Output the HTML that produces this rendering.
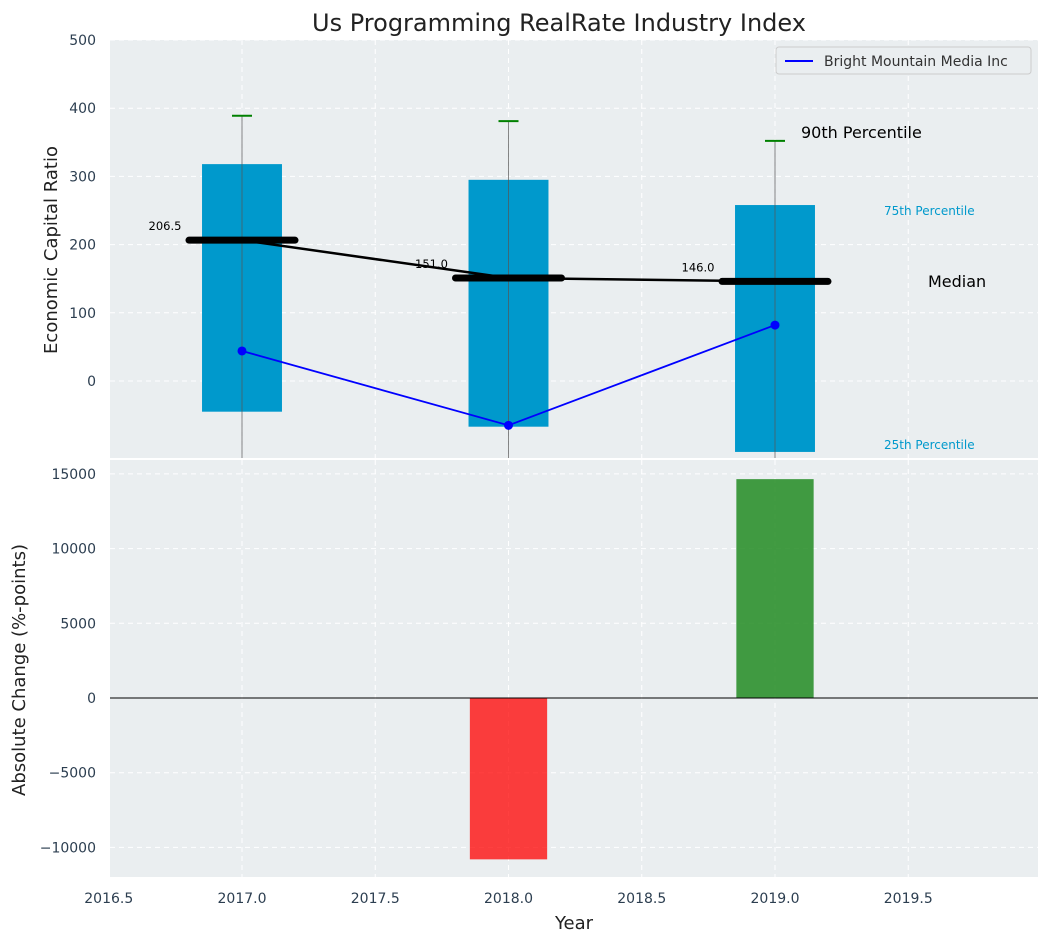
<!DOCTYPE html>
<html><head><meta charset="utf-8"><style>
body{margin:0;background:#fff;}
svg text{font-family:"DejaVu Sans","Liberation Sans",sans-serif;}
</style></head><body>
<svg id="c" width="1048" height="942" viewBox="0 0 1048 942"></svg>
<script>
const years=[2017,2018,2019];
const p25=[-45,-67,-104];
const p75=[318,295,258];
const p90=[389,381,352];
const medians=[206.5,151.0,146.0];
const company=[44,-65,82];
const changes=[0,-10800,14650];
const xTicks=[2016.5,2017.0,2017.5,2018.0,2018.5,2019.0,2019.5];
const yTicksTop=[0,100,200,300,400,500];
const yTicksBot=[-10000,-5000,0,5000,10000,15000];

const L=110,R=1038;
const sx=v=>242+(v-2017)*266.5;
const syT=v=>381-v*0.682;
const syB=v=>698-v*0.01494;
const svg=document.getElementById('c');
const NS='http://www.w3.org/2000/svg';
function el(tag,attrs,txt){const e=document.createElementNS(NS,tag);for(const k in attrs)e.setAttribute(k,attrs[k]);if(txt!==undefined)e.textContent=txt;svg.appendChild(e);return e;}

let e;
e=el('rect',{x:L,y:40,width:R-L,height:418,fill:'#eaeef0'});


e=el('rect',{x:L,y:460,width:R-L,height:417,fill:'#eaeef0'});



xTicks.forEach(t=>{
  [[40,458],[460,877]].forEach(([a,b])=>{
    e=el('line',{x1:sx(t),x2:sx(t),y1:a,y2:b,stroke:'#fff','stroke-dasharray':'5,4','stroke-width':1});
    
    
  });
});
yTicksTop.forEach(t=>{
  e=el('line',{x1:L,x2:R,y1:syT(t),y2:syT(t),stroke:'#fff','stroke-dasharray':'5,4'});
  
  
  e=el('text',{x:96,y:syT(t)+5,'text-anchor':'end','font-size':14,fill:'#2c3e50'},t);
  
  
});
yTicksBot.forEach(t=>{
  e=el('line',{x1:L,x2:R,y1:syB(t),y2:syB(t),stroke:'#fff','stroke-dasharray':'5,4'});
  
  
  e=el('text',{x:96,y:syB(t)+5,'text-anchor':'end','font-size':14,fill:'#2c3e50'},t<0?'\u2212'+Math.abs(t):t);
  
  
});
xTicks.forEach(t=>{
  e=el('text',{x:sx(t),y:903,'text-anchor':'middle','font-size':14,fill:'#2c3e50'},t.toFixed(1));
  
  
});

const bw=0.3*266.5, mw=106;
years.forEach((y,i)=>{
  e=el('rect',{x:sx(y)-bw/2,y:syT(p75[i]),width:bw,height:syT(p25[i])-syT(p75[i]),fill:'#0099cc'});
  
  
  e=el('line',{x1:sx(y),x2:sx(y),y1:syT(p90[i]),y2:458,stroke:'#555','stroke-width':1,opacity:0.7});
  
  
  e=el('line',{x1:sx(y)-10,x2:sx(y)+10,y1:syT(p90[i]),y2:syT(p90[i]),stroke:'green','stroke-width':2});
  
  
});
e=el('polyline',{points:years.map((y,i)=>sx(y)+','+syT(medians[i])).join(' '),fill:'none',stroke:'#000','stroke-width':2.5});


years.forEach((y,i)=>{
  e=el('line',{x1:sx(y)-mw/2,x2:sx(y)+mw/2,y1:syT(medians[i]),y2:syT(medians[i]),stroke:'#000','stroke-width':7,'stroke-linecap':'round'});
  
  
  e=el('text',{x:sx(y)-77,y:syT(medians[i])-10,'text-anchor':'middle','font-size':11.5,fill:'#000'},medians[i].toFixed(1));
  
  
});
e=el('polyline',{points:years.map((y,i)=>sx(y)+','+syT(company[i])).join(' '),fill:'none',stroke:'#0000ff','stroke-width':1.8});


years.forEach((y,i)=>{
  e=el('circle',{cx:sx(y),cy:syT(company[i]),r:4.5,fill:'#0000ff'});
  
  
});
e=el('text',{x:801,y:138,'font-size':16,fill:'#000'},'90th Percentile');

e=el('text',{x:884,y:215,'font-size':12,fill:'#0099cc'},'75th Percentile');

e=el('text',{x:884,y:449,'font-size':12,fill:'#0099cc'},'25th Percentile');

e=el('text',{x:928,y:287,'font-size':16,fill:'#000'},'Median');


e=el('rect',{x:776,y:47,width:255,height:27,fill:'#eaeef0',stroke:'#ccc',rx:3});

e=el('line',{x1:785,x2:813,y1:61,y2:61,stroke:'#0000ff','stroke-width':2});

e=el('text',{x:824,y:66,'font-size':14,fill:'#333'},'Bright Mountain Media Inc');


const cb=0.29*266.5;
years.forEach((y,i)=>{
  if(changes[i]===0)return;
  const v=changes[i];
  e=el('rect',{x:sx(y)-cb/2,y:Math.min(syB(v),syB(0)),width:cb,height:Math.abs(syB(v)-syB(0)),fill:v<0?'#ff0000':'#228b22',opacity:v<0?0.75:0.85});
  
  
});
e=el('line',{x1:L,x2:R,y1:syB(0),y2:syB(0),stroke:'#000','stroke-width':1});


e=el('text',{x:559,y:31,'text-anchor':'middle','font-size':24,fill:'#222'},'Us Programming RealRate Industry Index');

e=el('text',{x:0,y:0,'text-anchor':'middle','font-size':18,fill:'#222',transform:'translate(57,250) rotate(-90)'},'Economic Capital Ratio');

e=el('text',{x:0,y:0,'text-anchor':'middle','font-size':18,fill:'#222',transform:'translate(25,670) rotate(-90)'},'Absolute Change (%-points)');

e=el('text',{x:574,y:929,'text-anchor':'middle','font-size':18,fill:'#222'},'Year');

</script>
</body></html>
